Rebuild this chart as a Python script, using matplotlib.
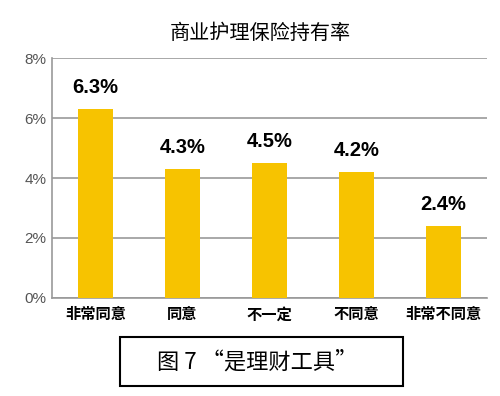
import matplotlib
matplotlib.use("Agg")
import matplotlib.pyplot as plt
from matplotlib.patches import Rectangle

plt.rcParams['font.family'] = ['Noto Sans CJK SC', 'DejaVu Sans']

# data
categories = ['非常同意', '同意', '不一定', '不同意', '非常不同意']
values = [6.3, 4.3, 4.5, 4.2, 2.4]
yticks = [0, 2, 4, 6, 8]

fig = plt.figure(figsize=(5, 3.96), dpi=100)
ax = fig.add_axes([0.104, 0.2475, 0.87, 0.606])

x = range(len(categories))
ax.bar(x, values, width=0.4, color='#F7C300', zorder=3)

for i, v in enumerate(values):
    ax.text(i, v + 0.4, '%.1f%%' % v, ha='center', va='bottom',
            fontsize=14.5, fontweight='bold', family=['Liberation Sans', 'DejaVu Sans'])

ax.set_xlim(-0.5, len(categories) - 0.5)
ax.set_ylim(0, 8)
ax.set_yticks(yticks)
ax.set_yticklabels(['%d%%' % t for t in yticks], color='#555555', fontsize=11,
                   family=['Liberation Sans', 'DejaVu Sans'])
ax.set_xticks(list(x))
ax.set_xticklabels(categories, fontsize=11, fontweight='bold')
ax.tick_params(axis='x', length=0, pad=6)
ax.tick_params(axis='y', length=0, pad=4)

ax.grid(axis='y', color='#999999', linewidth=1.2, linestyle='-', zorder=0)
for side in ['top', 'right']:
    ax.spines[side].set_visible(False)
ax.spines['left'].set_color('#999999')
ax.spines['bottom'].set_color('#999999')
ax.spines['left'].set_linewidth(1.2)
ax.spines['bottom'].set_linewidth(1.2)

fig.text(0.52, 0.915, '商业护理保险持有率', ha='center', va='center', fontsize=14.5)

# caption box
fig.patches.append(Rectangle((0.24, 0.025), 0.566, 0.124, transform=fig.transFigure,
                             fill=False, edgecolor='black', linewidth=1.5))
fig.text(0.515, 0.087, '图 7 “是理财工具”', ha='center', va='center', fontsize=16)

fig.savefig('out.png', dpi=100)
